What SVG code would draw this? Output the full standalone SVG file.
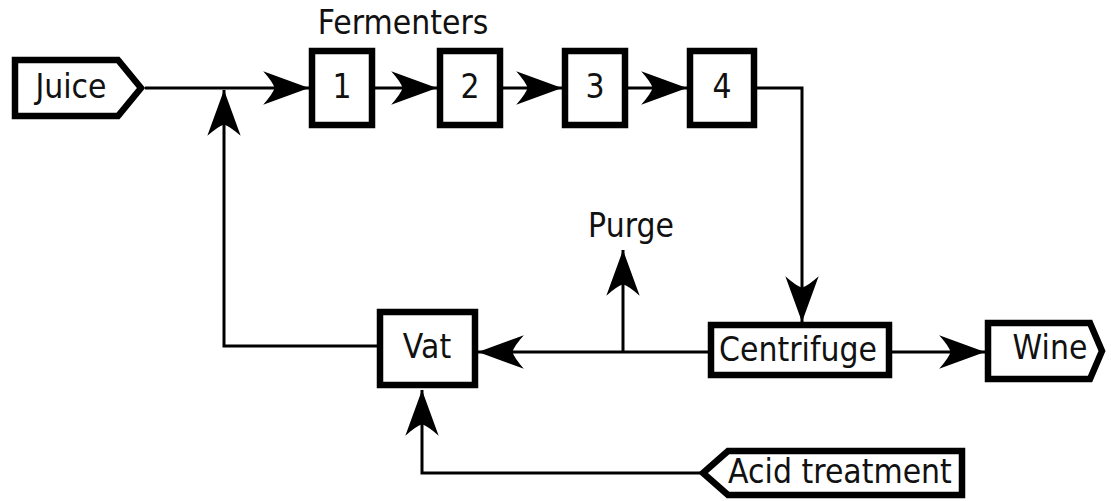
<svg xmlns="http://www.w3.org/2000/svg" width="1111" height="501" viewBox="0 0 1111 501">
<defs>
<style>
.node{fill:#fff;stroke:#000;stroke-width:6.5;stroke-linejoin:miter}
.lbl{font-family:"DejaVu Sans",sans-serif;font-size:30px;fill:#111;text-anchor:middle}
.con{fill:none;stroke:#000;stroke-width:3;marker-end:url(#arr)}
</style>
<marker id="arr" markerUnits="userSpaceOnUse" markerWidth="50" markerHeight="40" viewBox="-46 -18 48 36" refX="0" refY="0" orient="auto" overflow="visible">
<path d="M0,0 L-44,-16 Q-35,-6 -33,0 Q-35,6 -44,16 Z" fill="#000"/>
</marker>
</defs>
<rect width="1111" height="501" fill="#fff"/>
<g id="connectors">
<path class="con" d="M145,88 H309"/>
<path class="con" d="M375,88 H437"/>
<path class="con" d="M503,88 H562"/>
<path class="con" d="M628,88 H687"/>
<path class="con" d="M757,88 H802 V322"/>
<path class="con" d="M892,352 H985"/>
<path class="con" d="M708,352 H478"/>
<path class="con" d="M623,352 V250"/>
<path class="con" d="M377,346 H224 V90"/>
<path class="con" d="M700,473 H422 V390"/>
</g>
<g id="fermenters-label"><text class="lbl" transform="translate(403,34) scale(1,1.1)">Fermenters</text></g>
<g id="juice"><path class="node" d="M15,60 H118 L141,88 L118,116 H15 Z"/><text class="lbl" transform="translate(71,98) scale(1,1.1)">Juice</text></g>
<g id="f1"><rect class="node" x="312" y="51" width="60" height="74"/><text class="lbl" transform="translate(342,98) scale(1,1.1)">1</text></g>
<g id="f2"><rect class="node" x="440" y="51" width="60" height="74"/><text class="lbl" transform="translate(470,98) scale(1,1.1)">2</text></g>
<g id="f3"><rect class="node" x="565" y="51" width="60" height="74"/><text class="lbl" transform="translate(595,98) scale(1,1.1)">3</text></g>
<g id="f4"><rect class="node" x="690" y="51" width="64" height="74"/><text class="lbl" transform="translate(722,98) scale(1,1.1)">4</text></g>
<g id="centrifuge"><rect class="node" x="711" y="325" width="178" height="50"/><text class="lbl" transform="translate(798,361) scale(1,1.1)">Centrifuge</text></g>
<g id="wine"><path class="node" d="M988,323 H1090 L1102,351 L1090,379 H988 Z"/><text class="lbl" transform="translate(1050,359) scale(1,1.1)">Wine</text></g>
<g id="vat"><rect class="node" x="380" y="312" width="95" height="73"/><text class="lbl" transform="translate(427,358) scale(1,1.1)">Vat</text></g>
<g id="purge"><text class="lbl" transform="translate(631,237) scale(1,1.1)">Purge</text></g>
<g id="acid"><path class="node" d="M962,451 V495 H728 L703,473 L728,451 Z"/><text class="lbl" transform="translate(840,483) scale(1,1.1)">Acid treatment</text></g>
</svg>
